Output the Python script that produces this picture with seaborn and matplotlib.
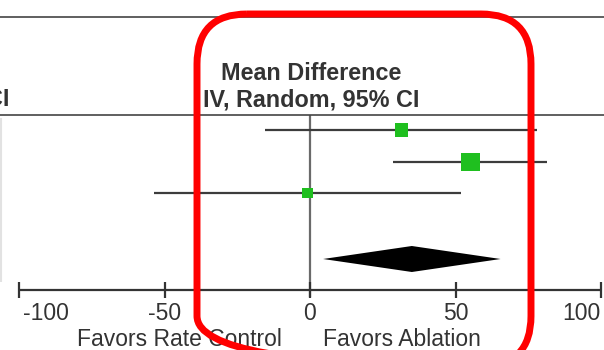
import matplotlib
matplotlib.use("Agg")
import matplotlib.pyplot as plt
from matplotlib.patches import FancyBboxPatch
import seaborn as sns
import pandas as pd

# ---- data ----
studies = ["Study 1", "Study 2", "Study 3"]
mean_diff = [31.5, 55.0, -1.0]
ci_low = [-15.5, 28.5, -53.5]
ci_high = [78.0, 81.5, 52.0]
weights = [26.0, 55.4, 18.6]
pooled_md = 35.0
pooled_low = 4.5
pooled_high = 65.5
tick_values = [-100, -50, 0, 50, 100]
tick_labels = ["-100", "-50", "0", "50", "100"]
header_lines = ["Mean Difference", "IV, Random, 95% CI"]
left_label = "Favors Rate Control"
right_label = "Favors Ablation"

sns.set_theme(style="white")
plt.rcParams["font.family"] = ["Liberation Sans", "DejaVu Sans"]

W, H = 604, 350
PX_PER_UNIT = 2.91
ZERO_PX = 310

fig = plt.figure(figsize=(W / 100, H / 100), dpi=100)
fig.patch.set_facecolor("white")
ax = fig.add_axes([0, 0, 1, 1])

ov = fig.add_axes([0, 0, 1, 1], zorder=5)
ov.set_xlim(0, W)
ov.set_ylim(H, 0)
ov.axis("off")
ov.patch.set_alpha(0)

row_y = [130, 162, 193]
diamond_y = 259
diamond_half = 13

df = pd.DataFrame({"study": studies, "md": mean_diff, "lo": ci_low,
                   "hi": ci_high, "w": weights, "row": row_y})

line_col = "#3c3c3c"
text_col = "#333333"

# horizontal rules
ov.hlines([17, 115], 0, W, color="#444444", lw=1.2, zorder=1)
# faint left column edge
ov.vlines(1, 118, 282, color="#e2e2e2", lw=1.5, zorder=1)

# zero line
ax.vlines(0, 115, 297, color="#6a6a6a", lw=1.6, zorder=1)

# CI lines
ax.hlines(df["row"], df["lo"], df["hi"], color=line_col, lw=1.6, zorder=2)

# weighted squares
sns.scatterplot(data=df, x="md", y="row", size="w", sizes=(0, 337),
                size_norm=(0, 100), marker="s", color="#1fbf1f",
                edgecolor="none", legend=False, ax=ax, zorder=3)
ax.set_xlim(-ZERO_PX / PX_PER_UNIT, (W - ZERO_PX) / PX_PER_UNIT)
ax.set_ylim(H, 0)
ax.axis("off")

# pooled diamond
ax.fill([pooled_low, pooled_md, pooled_high, pooled_md],
        [diamond_y, diamond_y - diamond_half, diamond_y, diamond_y + diamond_half],
        color="black", lw=0, zorder=3)

# x axis
ax.hlines(290, tick_values[0], tick_values[-1], color="#333333", lw=1.6)
ax.vlines(tick_values, 282, 298, color="#333333", lw=1.6)
for v, lab in zip(tick_values, tick_labels):
    if v == tick_values[0]:
        ha, x = "left", v + 1.5
    elif v == tick_values[-1]:
        ha, x = "right", v
    else:
        ha, x = "center", v
    ax.text(x, 313, lab, ha=ha, va="center", fontsize=16.5, color=text_col)

ax.text(-9.6, 340, left_label, ha="right", va="center", fontsize=16.5, color=text_col)
ax.text(4.3, 340, right_label, ha="left", va="center", fontsize=16.5, color=text_col)

# header
ax.text(0.5, 73, header_lines[0], ha="center", va="center", fontsize=16.8,
        fontweight="bold", color=text_col)
ax.text(0.5, 100, header_lines[1], ha="center", va="center", fontsize=16.8,
        fontweight="bold", color=text_col)
ov.text(9, 100, "CI", ha="right", va="center", fontsize=16.8,
        fontweight="bold", color=text_col)

# red highlight box
box = FancyBboxPatch((197, 14), 334, 352,
                     boxstyle="round,pad=0,rounding_size=50",
                     lw=5, ec="#ff0000", fc="none", zorder=6)
ov.add_patch(box)

fig.savefig("out.png", dpi=100, facecolor="white")
